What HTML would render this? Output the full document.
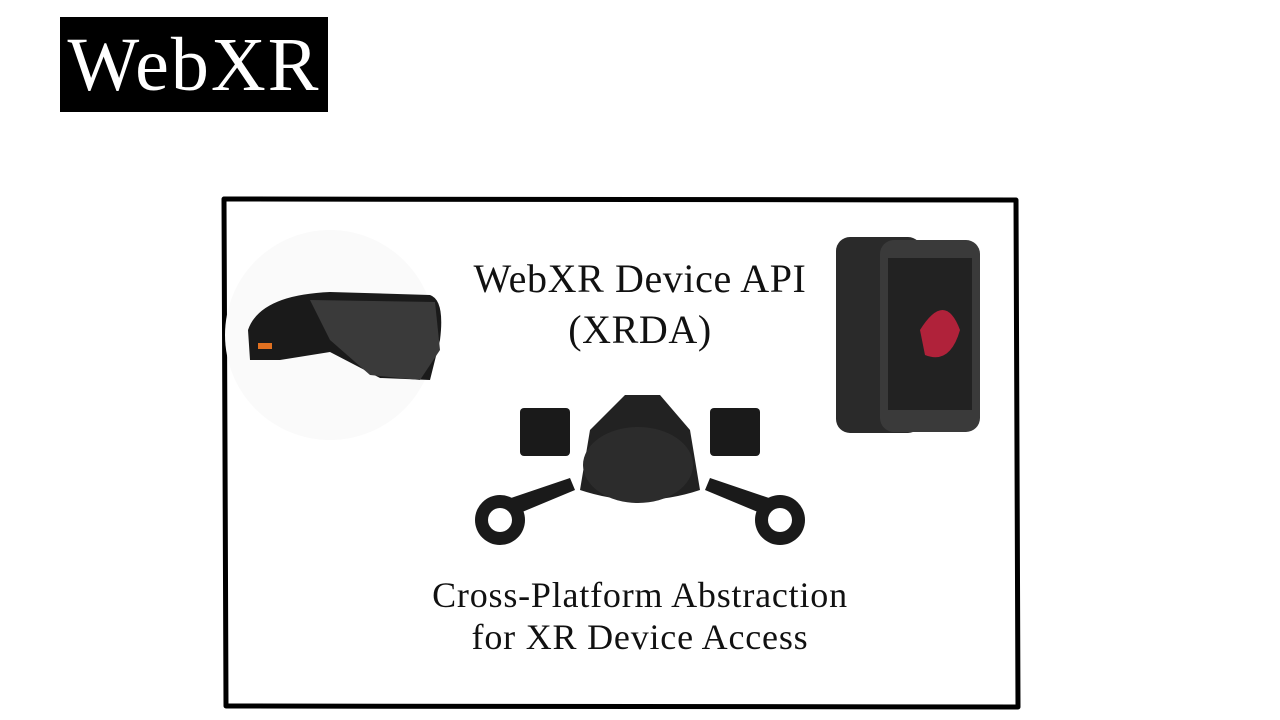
<!DOCTYPE html>
<html><head><meta charset="utf-8"><style>
body{margin:0;width:1280px;height:720px;background:#fff;position:relative;overflow:hidden;font-family:"Liberation Serif",serif}
.t{position:absolute;left:60px;top:17px;width:268px;height:95px;background:#000;color:#fff;font-size:76px;letter-spacing:2px;line-height:97px;text-align:center}
.c{position:absolute;width:1280px;text-align:center;color:#111}
</style></head><body>
<div class="t">WebXR</div>
<svg width="1280" height="720" style="position:absolute;left:0;top:0">
<path d="M224 199 L1016 200 L1018 707 L226 706 Z" fill="none" stroke="#000" stroke-width="5" stroke-linejoin="round"/>
<circle cx="330" cy="335" r="105" fill="#fafafa"/>
<path d="M248 330 Q260 295 330 292 L430 295 Q445 300 440 340 L430 380 L380 378 L330 352 L280 360 L250 360 Z" fill="#1a1a1a"/>
<path d="M310 300 L435 302 L440 350 L420 380 L370 375 L330 340 Z" fill="#3a3a3a"/>
<rect x="258" y="343" width="14" height="6" fill="#e07020"/>
<rect x="836" y="237" width="86" height="196" rx="14" fill="#2a2a2a"/>
<rect x="880" y="240" width="100" height="192" rx="14" fill="#3a3a3a"/>
<rect x="888" y="258" width="84" height="152" fill="#222"/>
<path d="M920 330 Q945 290 960 330 Q950 365 925 355 Z" fill="#b0223a"/>
<rect x="520" y="408" width="50" height="48" rx="4" fill="#1a1a1a"/>
<rect x="710" y="408" width="50" height="48" rx="4" fill="#1a1a1a"/>
<path d="M625 395 L660 395 L690 430 L700 490 Q640 510 580 490 L590 430 Z" fill="#222"/>
<ellipse cx="638" cy="465" rx="55" ry="38" fill="#2c2c2c"/>
<circle cx="500" cy="520" r="25" fill="#1a1a1a"/><circle cx="500" cy="520" r="12" fill="#fff"/>
<path d="M505 500 L570 478 L575 490 L515 515 Z" fill="#1a1a1a"/>
<circle cx="780" cy="520" r="25" fill="#1a1a1a"/><circle cx="780" cy="520" r="12" fill="#fff"/>
<path d="M775 500 L710 478 L705 490 L765 515 Z" fill="#1a1a1a"/>
</svg>
<div class="c" style="top:253px;font-size:40px;letter-spacing:0.6px;line-height:51px">WebXR Device API<br>(XRDA)</div>
<div class="c" style="top:574px;font-size:36px;letter-spacing:0.8px;line-height:42px">Cross-Platform Abstraction<br>for XR Device Access</div>
</body></html>
